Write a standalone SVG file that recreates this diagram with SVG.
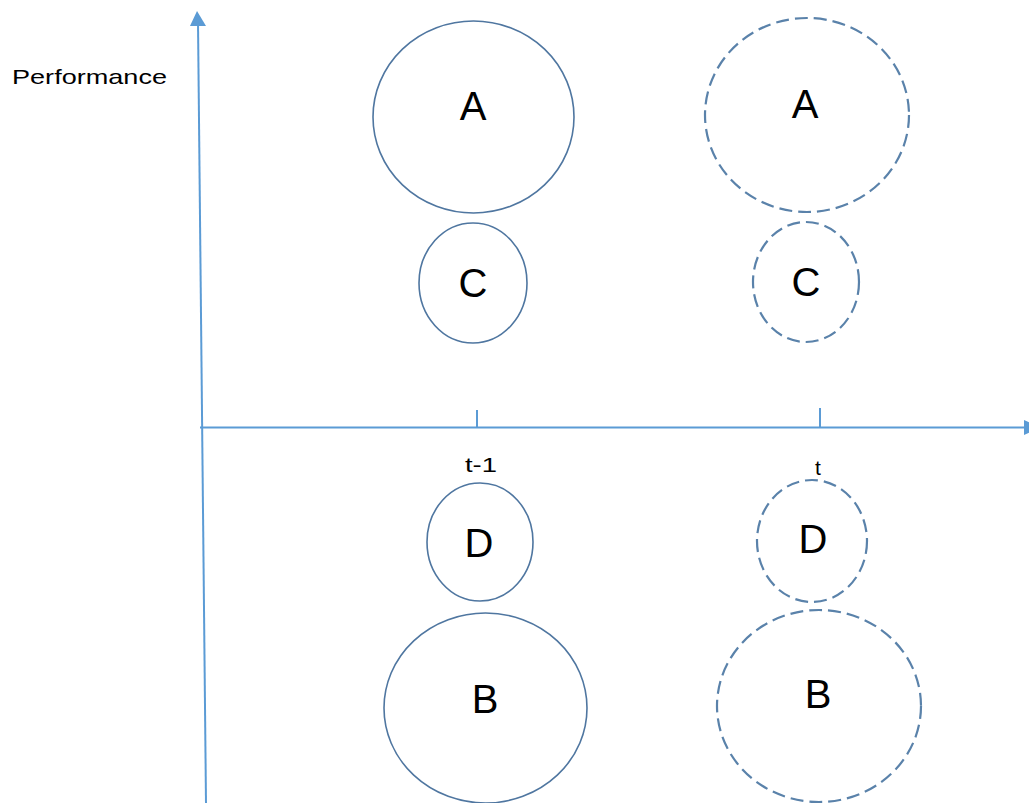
<svg xmlns="http://www.w3.org/2000/svg" width="1029" height="803" viewBox="0 0 1029 803">
<style>
.axis{stroke:#5b9bd5;stroke-width:2;fill:none}
.solid{fill:none;stroke:#4f76a0;stroke-width:1.6}
.dash{fill:none;stroke:#5a82aa;stroke-width:2.2;stroke-dasharray:13 6}
.lbl{font-family:"Liberation Sans",Arial,sans-serif;font-size:40px;fill:#000;text-anchor:middle}
.small{font-family:"Liberation Sans",Arial,sans-serif;font-size:21px;fill:#000}
</style>
<rect width="1029" height="803" fill="#fff"/>
<g id="axes">
<line class="axis" x1="206" y1="803" x2="198" y2="22"/>
<polygon points="197,11 190,26 206,26" fill="#5b9bd5"/>
<line class="axis" x1="200" y1="427.5" x2="1026" y2="427.5"/>
<polygon points="1024,420 1040,427.5 1024,435" fill="#5b9bd5"/>
<line class="axis" x1="477" y1="410" x2="477" y2="427"/>
<line class="axis" x1="820" y1="408" x2="820" y2="427"/>
</g>
<g id="labels">
<text class="small" x="12" y="84" textLength="155" lengthAdjust="spacingAndGlyphs">Performance</text>
<text class="small" x="465" y="472" textLength="32" lengthAdjust="spacingAndGlyphs">t-1</text>
<text class="small" x="818" y="475" text-anchor="middle">t</text>
</g>
<g id="A1"><ellipse class="solid" cx="473.5" cy="117" rx="100.5" ry="96"/><text class="lbl" x="473" y="120">A</text></g>
<g id="C1"><ellipse class="solid" cx="473" cy="283" rx="54" ry="60"/><text class="lbl" x="473" y="297">C</text></g>
<g id="D1"><ellipse class="solid" cx="480" cy="542" rx="53" ry="59"/><text class="lbl" x="479" y="557">D</text></g>
<g id="B1"><ellipse class="solid" cx="485.5" cy="708" rx="101.5" ry="95"/><text class="lbl" x="485" y="713">B</text></g>
<g id="A2"><ellipse class="dash" cx="807" cy="115" rx="102" ry="97"/><text class="lbl" x="805" y="118">A</text></g>
<g id="C2"><ellipse class="dash" cx="806" cy="282" rx="53" ry="60"/><text class="lbl" x="806" y="296">C</text></g>
<g id="D2"><ellipse class="dash" cx="812" cy="541" rx="55" ry="61"/><text class="lbl" x="813" y="553">D</text></g>
<g id="B2"><ellipse class="dash" cx="819" cy="706" rx="102" ry="96"/><text class="lbl" x="818" y="708">B</text></g>
<g id="connectors"></g>
</svg>
